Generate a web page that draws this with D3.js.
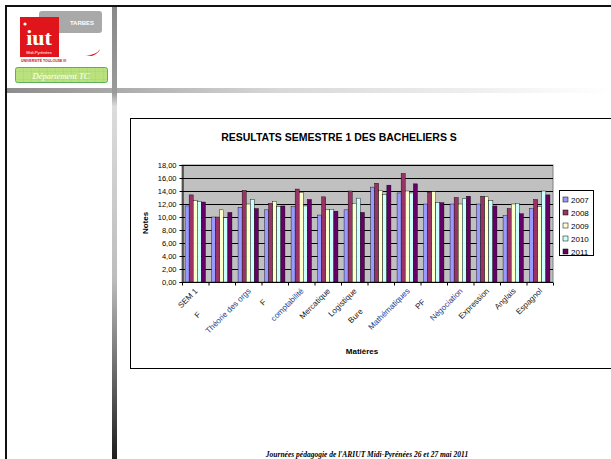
<!DOCTYPE html>
<html>
<head>
<meta charset="utf-8">
<script src="https://cdn.jsdelivr.net/npm/d3@7"></script>
<style>
  body { margin: 0; background: #fff; }
  svg { display: block; }
</style>
</head>
<body>
<div id="chart"></div>
<script>
// data
var subjects = ["SEM 1", "F\u00a0\u00a0\u00a0\u00a0\u00a0\u00a0\u00a0\u00a0\u00a0\u00a0\u00a0\u00a0\u00a0\u00a0\u00a0",
  "Théorie des orgs", "F\u00a0\u00a0\u00a0\u00a0\u00a0\u00a0\u00a0", "comptabilité", "Mercatique", "Logistique",
  "Bure\u00a0\u00a0\u00a0\u00a0\u00a0\u00a0\u00a0\u00a0\u00a0\u00a0\u00a0\u00a0\u00a0", "Mathématiques",
  "PF\u00a0\u00a0\u00a0\u00a0\u00a0\u00a0\u00a0", "Négociation", "Expression", "Anglais", "Espagnol"];
var blueLabels = ["Théorie des orgs", "comptabilité", "Mathématiques", "Négociation"];
var years = ["2007", "2008", "2009", "2010", "2011"];
var notes2007 = [11.7, 10.0, 11.5, 11.1, 11.6, 10.3, 11.1, 14.6, 13.7, 12.0, 12.0, 12.0, 10.2, 11.3];
var notes2008 = [13.4, 10.0, 14.1, 12.1, 14.3, 13.1, 14.0, 15.2, 16.7, 13.8, 13.0, 13.2, 11.3, 12.7];
var notes2009 = [12.5, 11.1, 12.0, 12.4, 13.8, 11.1, 12.1, 14.1, 14.0, 13.9, 12.0, 13.1, 12.0, 11.6];
var notes2010 = [12.4, 9.9, 12.7, 11.6, 11.7, 11.2, 12.9, 13.5, 13.7, 12.2, 12.8, 12.5, 12.1, 14.0];
var notes2011 = [12.3, 10.7, 11.3, 11.7, 12.7, 10.9, 10.7, 14.9, 15.1, 12.2, 13.2, 11.7, 10.5, 13.4];
var series = [notes2007, notes2008, notes2009, notes2010, notes2011];
var yTicks = [0, 2, 4, 6, 8, 10, 12, 14, 16, 18];
var colors = ["#9999ff", "#993366", "#ffffcc", "#ccffff", "#660066"];

var svgWidth = 611, svgHeight = 459;
var svg = d3.select("#chart").append("svg")
  .attr("width", svgWidth)
  .attr("height", svgHeight);

var defs = svg.append("defs");
var gh = defs.append("linearGradient").attr("id", "hbar");
gh.append("stop").attr("offset", "0%").attr("stop-color", "#8c8c8c");
gh.append("stop").attr("offset", "45%").attr("stop-color", "#d8d8d8");
gh.append("stop").attr("offset", "100%").attr("stop-color", "#ffffff");
var gv = defs.append("linearGradient").attr("id", "vbar")
  .attr("x1", 0).attr("y1", 0).attr("x2", 0).attr("y2", 1);
gv.append("stop").attr("offset", "0%").attr("stop-color", "#8a8a8a");
gv.append("stop").attr("offset", "19%").attr("stop-color", "#9a9a9a");
gv.append("stop").attr("offset", "22%").attr("stop-color", "#dcdcdc");
gv.append("stop").attr("offset", "60%").attr("stop-color", "#bdbdbd");
gv.append("stop").attr("offset", "100%").attr("stop-color", "#1e1e1e");
var gg = defs.append("pattern").attr("id", "greengrid")
  .attr("width", 8).attr("height", 8).attr("patternUnits", "userSpaceOnUse");
gg.append("rect").attr("width", 8).attr("height", 8).attr("fill", "#b9e27e");
gg.append("path").attr("d", "M8 0V8M0 8H8").attr("stroke", "#9acb5c").attr("stroke-width", 0.6);

// page frame
svg.append("rect").attr("x", 6).attr("y", 6).attr("width", 620).attr("height", 470)
  .attr("fill", "none").attr("stroke", "#111").attr("stroke-width", 2);
svg.append("rect").attr("x", 7).attr("y", 88).attr("width", 604).attr("height", 5).attr("fill", "url(#hbar)");
svg.append("rect").attr("x", 112).attr("y", 7).attr("width", 5).attr("height", 452).attr("fill", "url(#vbar)");

// logo
svg.append("rect").attr("x", 39).attr("y", 11).attr("width", 63).attr("height", 22).attr("rx", 3)
  .attr("fill", "#a9a9a9");
svg.append("text").attr("x", 82).attr("y", 25).attr("text-anchor", "middle")
  .style("font", "bold 6px 'Liberation Sans'").attr("fill", "#fff").text("TARBES");
svg.append("rect").attr("x", 20).attr("y", 17).attr("width", 39).attr("height", 40).attr("fill", "#e0141b");
svg.append("circle").attr("cx", 25).attr("cy", 24).attr("r", 1.6).attr("fill", "#fff");
svg.append("text").attr("x", 39).attr("y", 45).attr("text-anchor", "middle")
  .style("font", "bold 22px 'Liberation Serif'").attr("fill", "#fff").text("iut");
svg.append("text").attr("x", 39).attr("y", 54).attr("text-anchor", "middle")
  .style("font", "4px 'Liberation Sans'").attr("fill", "#fff").text("Midi-Pyrénées");
svg.append("text").attr("x", 21).attr("y", 62)
  .style("font", "bold 3.5px 'Liberation Sans'").attr("fill", "#c0141b").text("UNIVERSITÉ TOULOUSE III");
svg.append("path").attr("d", "M84 55 Q96 56 100 49 Q99 53 92 56 Z").attr("fill", "#e0141b");
svg.append("rect").attr("x", 15.5).attr("y", 67.5).attr("width", 92).attr("height", 15).attr("rx", 2)
  .attr("fill", "url(#greengrid)").attr("stroke", "#5db05a");
svg.append("text").attr("x", 61).attr("y", 78.5).attr("text-anchor", "middle")
  .style("font", "italic 8.5px 'Liberation Serif'").attr("fill", "#fff").text("Département TC");

// chart box
svg.append("rect").attr("x", 130.5).attr("y", 118.5).attr("width", 500).attr("height", 250)
  .attr("fill", "#fff").attr("stroke", "#000");

svg.append("text").attr("x", 339).attr("y", 141).attr("text-anchor", "middle")
  .style("font", "bold 10.5px 'Liberation Sans'")
  .text("RESULTATS SEMESTRE 1 DES BACHELIERS S");

var plot = { left: 182, right: 553, top: 165, bottom: 282 };

var x = d3.scaleBand().domain(subjects).range([plot.left, plot.right]);
var bw = x.bandwidth() / 6.5;
var xi = d3.scaleBand().domain(years).range([0.75 * bw, x.bandwidth() - 0.75 * bw]);
var y = d3.scaleLinear().domain([0, 18]).range([plot.bottom, plot.top]);

svg.append("rect").attr("x", plot.left).attr("y", plot.top)
  .attr("width", plot.right - plot.left).attr("height", plot.bottom - plot.top)
  .attr("fill", "#c0c0c0").attr("stroke", "#808080");

svg.append("g").selectAll("line").data(yTicks).enter().append("line")
  .attr("x1", plot.left).attr("x2", plot.right)
  .attr("y1", function (d) { return y(d) + 0.5; })
  .attr("y2", function (d) { return y(d) + 0.5; })
  .attr("stroke", "#000").attr("stroke-width", 1);

// bars
var groups = svg.append("g").selectAll("g").data(series).enter().append("g")
  .attr("fill", function (d, i) { return colors[i]; });
groups.each(function (vals, si) {
  d3.select(this).selectAll("rect").data(vals).enter().append("rect")
    .attr("x", function (d, i) { return x(subjects[i]) + xi(years[si]); })
    .attr("width", xi.bandwidth())
    .attr("y", function (d) { return y(d); })
    .attr("height", function (d) { return y(0) - y(d); })
    .attr("stroke", "#000").attr("stroke-width", 0.4);
});

// axes
var yAxis = svg.append("g")
  .attr("transform", "translate(" + (plot.left + 0.5) + ",0)")
  .call(d3.axisLeft(y).tickValues(yTicks).tickSize(3).tickPadding(3)
    .tickFormat(function (d) { return d3.format(".2f")(d).replace(".", ","); }));
yAxis.select(".domain").attr("stroke", "#000");
yAxis.selectAll("text").style("font", "7.5px 'Liberation Sans'").attr("fill", "#000");

var xAxis = svg.append("g").attr("transform", "translate(0," + (plot.bottom + 0.5) + ")");
xAxis.append("line").attr("x1", plot.left).attr("x2", plot.right).attr("stroke", "#000");
xAxis.selectAll("line.tk").data(subjects.concat([null])).enter().append("line")
  .attr("class", "tk")
  .attr("x1", function (d, i) { return plot.left + i * x.step() + 0.5; })
  .attr("x2", function (d, i) { return plot.left + i * x.step() + 0.5; })
  .attr("y1", 0).attr("y2", 3).attr("stroke", "#000");
xAxis.selectAll("text").data(subjects).enter().append("text")
  .attr("transform", function (d) {
    return "translate(" + (x(d) + x.bandwidth() / 2 + 1) + ",7) rotate(-45)";
  })
  .attr("text-anchor", "end")
  .attr("dy", "0.35em")
  .style("font", "8px 'Liberation Sans'")
  .attr("fill", function (d) { return blueLabels.indexOf(d) >= 0 ? "#1f3a8a" : "#222"; })
  .text(function (d) { return d; });

svg.append("text")
  .attr("transform", "translate(148,223) rotate(-90)")
  .attr("text-anchor", "middle")
  .style("font", "bold 8px 'Liberation Sans'")
  .text("Notes");
svg.append("text").attr("x", 362).attr("y", 354).attr("text-anchor", "middle")
  .style("font", "bold 8px 'Liberation Sans'")
  .text("Matières");

// legend
var legend = svg.append("g").attr("transform", "translate(559,190)");
legend.append("rect").attr("x", 0.5).attr("y", 0.5).attr("width", 34).attr("height", 65)
  .attr("fill", "#fff").attr("stroke", "#000");
var items = legend.selectAll("g.it").data(years).enter().append("g")
  .attr("class", "it")
  .attr("transform", function (d, i) { return "translate(4," + (7 + i * 13) + ")"; });
items.append("rect").attr("width", 5).attr("height", 5)
  .attr("fill", function (d, i) { return colors[i]; })
  .attr("stroke", "#000").attr("stroke-width", 0.5);
items.append("text").attr("x", 8).attr("y", 5.5)
  .style("font", "8px 'Liberation Sans'")
  .text(function (d) { return d; });

// footer
svg.append("text").attr("x", 367).attr("y", 457).attr("text-anchor", "middle")
  .style("font", "bold italic 7.5px 'Liberation Serif'")
  .text("Journées pédagogie de l'ARIUT Midi-Pyrénées 26 et 27 mai 2011");
</script>
</body>
</html>
